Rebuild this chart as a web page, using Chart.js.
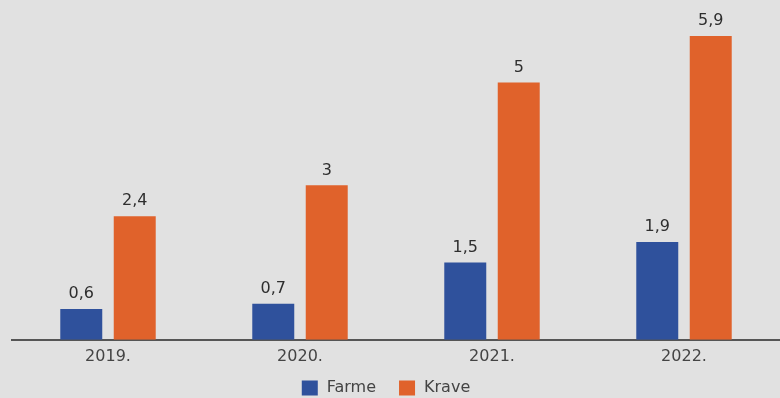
<!DOCTYPE html>
<html>
<head>
<meta charset="utf-8">
<script src="https://cdn.jsdelivr.net/npm/chart.js@4/dist/chart.umd.min.js"></script>
<style>
  html, body { margin: 0; padding: 0; background: #e1e1e1; }
  #wrap { width: 780px; height: 398px; }
</style>
</head>
<body>
<div id="wrap"><canvas id="chart-farms"></canvas></div>
<script>
const YEARS = ['2019.', '2020.', '2021.', '2022.'];
const FARME = [0.6, 0.7, 1.5, 1.9];
const KRAVE = [2.4, 3, 5, 5.9];

const FONT = '"DejaVu Sans", sans-serif';
const fmt = v => String(v).replace('.', ',');

// prints each bar's value above it, with a decimal comma
const valueLabels = {
  id: 'valueLabels',
  afterDatasetsDraw(chart) {
    const ctx = chart.ctx;
    ctx.save();
    ctx.font = '16px ' + FONT;
    ctx.fillStyle = '#2e2e2e';
    ctx.textAlign = 'center';
    ctx.textBaseline = 'bottom';
    chart.data.datasets.forEach((ds, i) => {
      chart.getDatasetMeta(i).data.forEach((bar, j) => {
        ctx.fillText(fmt(ds.data[j]), bar.x, bar.y - 7);
      });
    });
    ctx.restore();
  }
};

// compact legend row under the axis (built-in one spaces items too tightly)
const bottomLegend = {
  id: 'bottomLegend',
  afterDraw(chart) {
    const ctx = chart.ctx;
    const boxW = 16, boxH = 15, gapText = 9, gapItem = 23, y = 388;
    ctx.save();
    ctx.font = '16px ' + FONT;
    ctx.textBaseline = 'middle';
    const items = chart.data.datasets.map(ds => ({
      label: ds.label, color: ds.backgroundColor, w: ctx.measureText(ds.label).width
    }));
    const total = items.reduce((s, it) => s + boxW + gapText + it.w, 0) + gapItem * (items.length - 1);
    let x = chart.width / 2 - 4 - total / 2;
    items.forEach(it => {
      ctx.fillStyle = it.color;
      ctx.fillRect(x, y - boxH / 2, boxW, boxH);
      x += boxW + gapText;
      ctx.fillStyle = '#444';
      ctx.fillText(it.label, x, y);
      x += it.w + gapItem;
    });
    ctx.restore();
  }
};

new Chart(document.getElementById('chart-farms'), {
  type: 'bar',
  data: {
    labels: YEARS,
    datasets: [
      { label: 'Farme', data: FARME, backgroundColor: '#2f519c' },
      { label: 'Krave', data: KRAVE, backgroundColor: '#e0622b' }
    ]
  },
  options: {
    responsive: true,
    maintainAspectRatio: false,
    animation: false,
    categoryPercentage: 0.557,
    barPercentage: 0.785,
    layout: { padding: { left: 12, right: 0, top: 0, bottom: 25 } },
    plugins: {
      legend: { display: false },
      tooltip: { enabled: false }
    },
    scales: {
      x: {
        grid: { display: false, drawTicks: false },
        border: { color: '#555', width: 2 },
        ticks: { font: { family: FONT, size: 16 }, color: '#444', padding: 7 }
      },
      y: {
        display: false,
        min: 0,
        max: 6.6
      }
    }
  },
  plugins: [valueLabels, bottomLegend]
});
</script>
</body>
</html>
